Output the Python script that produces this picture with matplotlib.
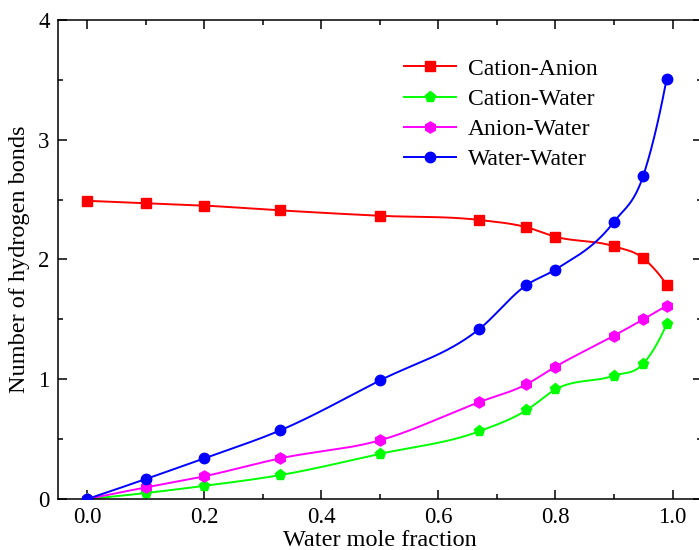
import numpy as np
import matplotlib
matplotlib.use("Agg")
import matplotlib.pyplot as plt
from matplotlib.ticker import MultipleLocator, FormatStrFormatter

# water mole fraction of each simulated mixture
x_frac = [0.0, 0.1, 0.2, 0.33, 0.5, 0.67, 0.75, 0.8, 0.9, 0.95, 0.99]

cation_anion = [2.49, 2.47, 2.45, 2.41, 2.365, 2.33, 2.27, 2.19, 2.11, 2.01, 1.79]
cation_water = [0.0, 0.05, 0.11, 0.20, 0.377, 0.566, 0.74, 0.915, 1.03, 1.13, 1.46]
anion_water = [0.0, 0.097, 0.19, 0.34, 0.49, 0.81, 0.957, 1.105, 1.364, 1.50, 1.615]
water_water = [0.0, 0.167, 0.34, 0.574, 0.99, 1.42, 1.785, 1.916, 2.315, 2.70, 3.51]


def smooth_curve(x, y, n=600):
    # cubic Hermite through the points, slopes from the neighbouring chords
    x = np.asarray(x, float)
    y = np.asarray(y, float)
    h = np.diff(x)
    delta = np.diff(y) / h
    d = np.empty_like(y)
    d[1:-1] = (h[1:] * delta[:-1] + h[:-1] * delta[1:]) / (h[:-1] + h[1:])
    d[0] = 2 * delta[0] - d[1]
    d[-1] = 2 * delta[-1] - d[-2]
    xs = np.linspace(x[0], x[-1], n)
    idx = np.clip(np.searchsorted(x, xs) - 1, 0, len(x) - 2)
    hh = h[idx]
    t = (xs - x[idx]) / hh
    ys = ((2 * t ** 3 - 3 * t ** 2 + 1) * y[idx]
          + (t ** 3 - 2 * t ** 2 + t) * hh * d[idx]
          + (-2 * t ** 3 + 3 * t ** 2) * y[idx + 1]
          + (t ** 3 - t ** 2) * hh * d[idx + 1])
    return xs, ys


plt.rcParams["font.family"] = ["Liberation Serif", "DejaVu Serif"]

fig = plt.figure(figsize=(6.99, 5.5), dpi=100)
ax = fig.add_axes([0.083, 0.0927, 0.921, 0.871])

series = [
    ("Cation-Anion", cation_anion, "#ff0000", "s", 6.5),
    ("Cation-Water", cation_water, "#00ff00", "p", 8),
    ("Anion-Water", anion_water, "#ff00ff", "h", 8),
    ("Water-Water", water_water, "#0000ff", "o", 7.5),
]

for name, vals, col, mk, ms in series:
    cx, cy = smooth_curve(x_frac, vals)
    ax.plot(cx, cy, color=col, lw=1.4, zorder=2)
    ax.plot(x_frac, vals, ls="none", marker=mk, ms=ms, color=col, zorder=3)
    # legend entry: line with marker in the middle
    ax.plot([], [], color=col, lw=1.4, marker=mk, ms=ms, label=name)

ax.set_xlim(-0.05, 1.05)
ax.set_ylim(0, 4)
ax.xaxis.set_major_locator(MultipleLocator(0.2))
ax.xaxis.set_minor_locator(MultipleLocator(0.1))
ax.yaxis.set_major_locator(MultipleLocator(1))
ax.yaxis.set_minor_locator(MultipleLocator(0.5))
ax.xaxis.set_major_formatter(FormatStrFormatter("%.1f"))
ax.yaxis.set_major_formatter(FormatStrFormatter("%d"))

ax.tick_params(which="both", direction="in", top=True, right=True,
               labelsize=16.5, width=1.1)
ax.tick_params(which="major", length=6.5, pad=6)
ax.tick_params(which="minor", length=3.5)
for sp in ax.spines.values():
    sp.set_linewidth(1.1)

ax.set_xlabel("Water mole fraction", fontsize=17.5, labelpad=1)
ax.set_ylabel("Number of hydrogen bonds", fontsize=17.5, labelpad=6)

ax.legend(loc="upper left", bbox_to_anchor=(0.523, 0.94), frameon=False,
          fontsize=17, handlelength=2.2, handletextpad=0.5,
          labelspacing=0.37, borderaxespad=0)

fig.savefig("out.png", dpi=100)
